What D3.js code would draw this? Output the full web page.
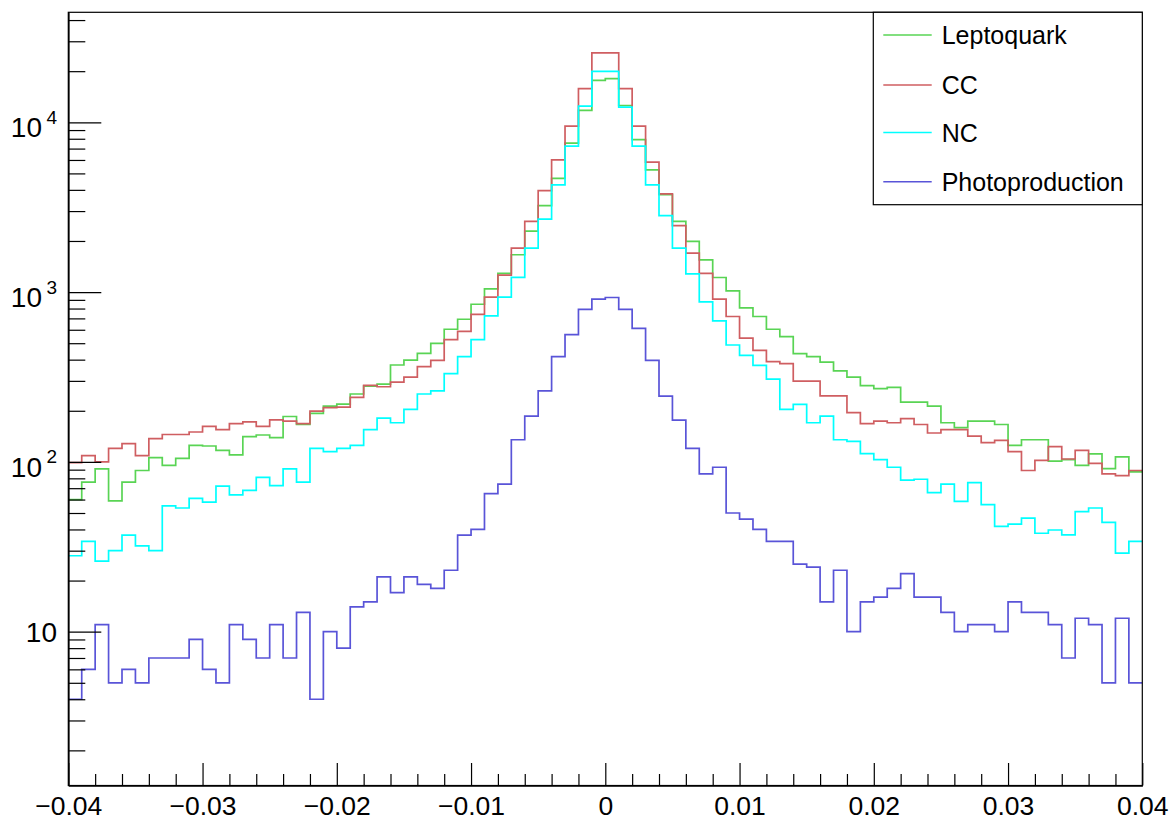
<!DOCTYPE html>
<html>
<head>
<meta charset="utf-8">
<script src="https://cdn.jsdelivr.net/npm/d3@7"></script>
<style>
  html, body { margin: 0; padding: 0; background: #fff; }
  svg { display: block; }
  text { font-family: "Liberation Sans", Arial, Helvetica, sans-serif; fill: #000; }
</style>
</head>
<body>
<svg id="chart" width="1176" height="821"></svg>
<script>
// ---------------- data ----------------
const xMin = -0.04, xMax = 0.04, nBins = 80;
const xTickValues = [-0.04, -0.03, -0.02, -0.01, 0, 0.01, 0.02, 0.03, 0.04];
const yMajorTicks = [10, 100, 1000, 10000];
const yTickLabels = ["10", "10^2", "10^3", "10^4"];
const seriesNames = ["Leptoquark", "CC", "NC", "Photoproduction"];

const leptoquark = [60, 76, 91, 59, 76, 89, 106, 95.5, 105, 125,
  124, 117, 110, 141, 144, 139, 185, 166, 193, 213,
  219, 251, 279, 287, 372, 398, 436, 499, 604, 692,
  848, 1045, 1288, 1659, 2285, 3229, 4677, 7540, 11750, 17650,
  18060, 12560, 7900, 5244, 3750, 2611, 1990, 1546, 1219, 1016,
  807, 718, 604, 547, 434, 417, 387, 344, 316, 281,
  270, 275, 225, 225, 213, 170, 159, 174, 174, 166,
  125, 135, 135, 101, 103, 95.5, 111.5, 91.3, 107, 87.3];

const cc = [99, 109, 100, 120, 128, 109, 137, 145, 145, 150,
  162, 155, 168, 172, 162, 177, 174, 168, 199, 209,
  210, 240, 282, 277, 295, 316, 364, 396, 525, 587,
  740, 933, 1259, 1815, 2611, 3954, 6004, 9497, 15770, 25620,
  25620, 15770, 9497, 5820, 3783, 2460, 1695, 1289, 908, 718,
  535, 454, 389, 379, 299, 299, 245, 245, 195, 168,
  174, 170, 180, 166, 148, 155, 155, 142, 130, 134,
  115, 89, 102, 123, 104, 117, 98, 85, 83, 89];

const nc = [28, 34, 26, 30, 37, 32, 30, 55, 53.5, 61,
  58, 72, 64, 68, 81, 72.5, 91, 76, 120, 115,
  120, 125, 155, 181, 170, 204, 251, 262, 331, 417,
  525, 724, 933, 1222, 1815, 2690, 4276, 7240, 12460, 19950,
  19950, 12300, 7240, 4276, 2817, 1815, 1280, 875, 676, 488,
  424, 370, 307, 204, 218, 170, 186, 135, 132, 112,
  103, 93, 78, 79, 66, 74, 58.5, 75.5, 56, 41.7,
  43, 46.7, 38, 39.7, 37.2, 51, 53.5, 44, 29, 34];

const photoproduction = [4, 6, 11, 5, 6, 5, 7, 7, 7, 9,
  6, 5, 11, 9, 7, 11, 7, 13, 4, 10,
  8, 14, 15, 21, 17, 21, 19, 18, 23, 37,
  40, 65, 74, 135, 186, 262, 417, 562, 792, 908,
  929, 792, 612, 396, 244, 176, 120, 85, 93, 50,
  46, 40, 34, 34, 25, 24, 15, 23, 10, 15,
  16, 18, 22, 16, 16, 13, 10, 11, 11, 10,
  15, 13, 13, 11, 7, 12, 11, 5, 12, 5];

// ---------------- styles ----------------
const seriesColors = ["rgb(89,212,84)", "rgb(207,94,97)", "rgb(0,255,255)", "rgb(89,84,216)"];
const allSeries = [leptoquark, cc, nc, photoproduction];

const W = 1176, H = 821;
const plot = { left: 68.3, right: 1142.3, top: 12.3, bottom: 785.5 };
const axisFont = 26.5, supFont = 19, legendFont = 25;

const svg = d3.select("#chart");
svg.append("rect").attr("width", W).attr("height", H).attr("fill", "#fff");

const x = d3.scaleLinear().domain([xMin, xMax]).range([plot.left, plot.right]);
const y = d3.scaleLog().domain([1.242, 44440]).range([plot.bottom, plot.top]);

// clip
svg.append("clipPath").attr("id", "clip").append("rect")
  .attr("x", plot.left).attr("y", plot.top)
  .attr("width", plot.right - plot.left).attr("height", plot.bottom - plot.top);

// histograms
const binWidth = (xMax - xMin) / nBins;
const edges = d3.range(nBins + 1).map(i => xMin + i * binWidth);
const line = d3.line().x(d => x(d[0])).y(d => y(d[1])).curve(d3.curveStepAfter);

const gHist = svg.append("g").attr("clip-path", "url(#clip)");
allSeries.forEach((vals, k) => {
  const pts = edges.map((e, i) => [e, vals[Math.min(i, nBins - 1)]]);
  gHist.append("path")
    .attr("d", line(pts))
    .attr("fill", "none")
    .attr("stroke", seriesColors[k])
    .attr("stroke-width", 1.7)
    .attr("stroke-linejoin", "miter");
});

// frame
svg.append("rect")
  .attr("x", plot.left).attr("y", plot.top)
  .attr("width", plot.right - plot.left).attr("height", plot.bottom - plot.top)
  .attr("fill", "none").attr("stroke", "#000").attr("stroke-width", 1.2);

// x axis
const fmtX = d => Math.abs(d) < 1e-12 ? "0" : d3.format(".2f")(d);
const xMinor = d3.range(0, 41).map(i => xMin + i * 0.002)
  .filter(v => !xTickValues.some(t => Math.abs(t - v) < 1e-9));

const gxMinor = svg.append("g").attr("transform", `translate(0,${plot.bottom})`)
  .call(d3.axisBottom(x).tickValues(xMinor).tickSize(-11.5).tickSizeOuter(0).tickFormat(""));
const gx = svg.append("g").attr("transform", `translate(0,${plot.bottom})`)
  .call(d3.axisBottom(x).tickValues(xTickValues).tickSize(-22.5).tickSizeOuter(0).tickFormat(fmtX));
[gxMinor, gx].forEach(g => {
  g.select(".domain").attr("stroke", "#000").attr("stroke-width", 1.2);
  g.selectAll(".tick line").attr("stroke", "#000").attr("stroke-width", 1.2);
});
gx.selectAll(".tick text")
  .attr("y", 29.8).attr("dy", null)
  .attr("font-size", axisFont)
  .attr("font-family", "Liberation Sans, Arial, sans-serif");

// y axis
const yMinor = [];
[1, 10, 100, 1000, 10000].forEach(dec => {
  for (let m = 2; m <= 9; m++) {
    const v = m * dec;
    if (v >= y.domain()[0] && v <= y.domain()[1]) yMinor.push(v);
  }
});
const gyMinor = svg.append("g").attr("transform", `translate(${plot.left},0)`)
  .call(d3.axisLeft(y).tickValues(yMinor).tickSize(-17).tickSizeOuter(0).tickFormat(""));
const gy = svg.append("g").attr("transform", `translate(${plot.left},0)`)
  .call(d3.axisLeft(y).tickValues(yMajorTicks).tickSize(-33).tickSizeOuter(0).tickFormat(""));
[gyMinor, gy].forEach(g => {
  g.select(".domain").attr("stroke", "#000").attr("stroke-width", 1.2);
  g.selectAll(".tick line").attr("stroke", "#000").attr("stroke-width", 1.2);
});

// y labels (10, 10^2, ...)
const gyl = svg.append("g");
yMajorTicks.forEach((v, i) => {
  const lab = yTickLabels[i];
  const yy = y(v);
  if (lab.indexOf("^") < 0) {
    gyl.append("text").attr("x", 57).attr("y", yy + 10.5)
      .attr("text-anchor", "end").attr("font-size", 28).text(lab);
  } else {
    const [base, exp] = lab.split("^");
    gyl.append("text").attr("x", 57).attr("y", yy + 1.5)
      .attr("text-anchor", "end").attr("font-size", supFont).text(exp);
    gyl.append("text").attr("x", 42).attr("y", yy + 15)
      .attr("text-anchor", "end").attr("font-size", 28).text(base);
  }
});

// legend
const leg = { x0: 873.3, y0: 12.3, x1: 1142.3, y1: 204.7 };
svg.append("rect")
  .attr("x", leg.x0).attr("y", leg.y0)
  .attr("width", leg.x1 - leg.x0).attr("height", leg.y1 - leg.y0)
  .attr("fill", "#fff").attr("stroke", "#000").attr("stroke-width", 1.2);
const legRows = [35, 85, 132.5, 181.7];
seriesNames.forEach((name, k) => {
  svg.append("line")
    .attr("x1", 883.3).attr("x2", 931.7)
    .attr("y1", legRows[k]).attr("y2", legRows[k])
    .attr("stroke", seriesColors[k]).attr("stroke-width", 1.5);
  svg.append("text")
    .attr("x", 941.7).attr("y", legRows[k] + 9.3)
    .attr("font-size", legendFont).text(name);
});
</script>
</body>
</html>
